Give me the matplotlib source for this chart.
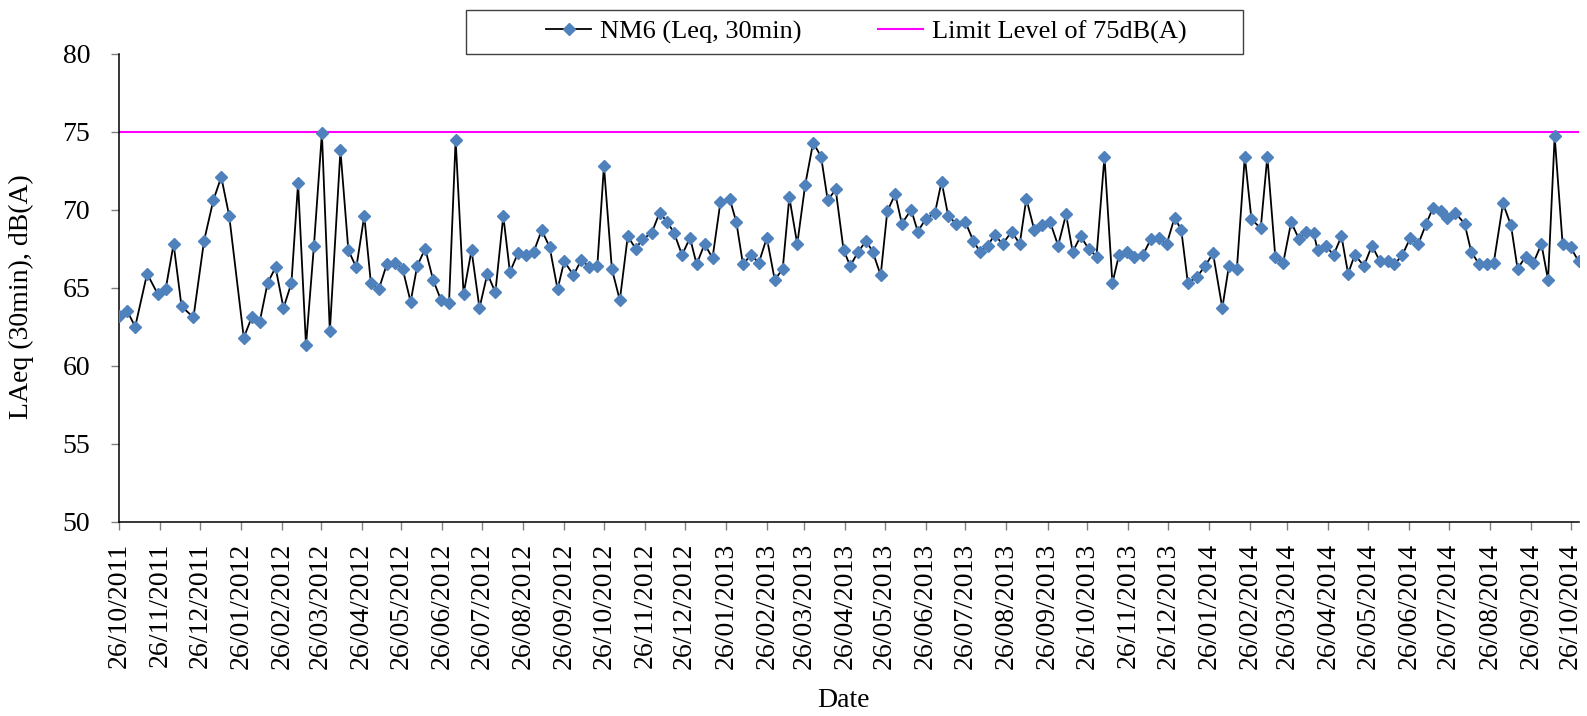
import numpy as np
import pandas as pd
import matplotlib
matplotlib.use('Agg')
import matplotlib.pyplot as plt
import matplotlib.dates as mdates
from matplotlib.patches import Rectangle

plt.rcParams['font.family'] = ['Liberation Serif', 'DejaVu Serif']

START = '2011-10-26'

# days after the first measurement (26/10/2011)
days = [0, 6, 12, 21, 29, 35, 41, 47, 56, 64, 71, 77, 83, 94, 100, 106, 112, 118, 124, 130,
        135, 141, 147, 153, 159, 167, 173, 179,
        185, 190, 196, 202, 208, 214, 220, 225, 231, 237, 243, 249, 254, 260, 266, 272, 278, 284,
        290, 295, 301, 307, 313, 319, 325, 331, 336, 343, 349, 355,
        361, 366, 372, 378, 384, 390, 395, 402, 408, 414, 419, 425, 431, 436, 442, 448, 454, 461,
        466, 471, 477, 483, 489, 495, 501, 506, 512, 518, 524, 530, 535, 541,
        547, 552, 558, 564, 569, 575, 580, 586, 591, 598, 603, 609, 616, 621, 626, 632, 639, 645,
        650, 656, 661, 667, 674, 680, 685, 691, 697, 703, 709, 715, 720,
        726, 732, 738, 744, 750, 755, 761, 766, 773, 779, 785, 791, 797, 802, 807, 814, 820, 826,
        833, 838, 844, 850, 855, 862, 867, 873, 879, 885, 891, 896, 902,
        905, 911, 917, 923, 928, 933, 940, 946, 952, 958, 963, 969, 975, 981, 987, 992, 998, 1003,
        1009, 1016, 1021, 1027, 1033, 1038, 1045, 1051, 1056, 1062, 1068, 1074, 1079, 1084, 1090,
        1096, 1102]

laeq = [63.2, 63.5, 62.5, 65.9, 64.6, 64.9, 67.8, 63.8, 63.1, 68.0, 70.6, 72.1, 69.6, 61.8,
        63.1, 62.8, 65.3, 66.3, 63.7, 65.3, 71.7, 61.3, 67.7, 74.9, 62.2, 73.8, 67.4, 66.3,
        69.6, 65.3, 64.9, 66.5, 66.6, 66.2, 64.1, 66.4, 67.5, 65.5, 64.2, 64.0, 74.5, 64.6,
        67.4, 63.7, 65.9, 64.7, 69.6, 66.0, 67.2, 67.1, 67.3, 68.7, 67.6, 64.9, 66.7, 65.8, 66.8, 66.3,
        66.4, 72.8, 66.2, 64.2, 68.3, 67.5, 68.1, 68.5, 69.8, 69.2, 68.5, 67.1, 68.2, 66.5,
        67.8, 66.9, 70.5, 70.7, 69.2, 66.5, 67.1, 66.6, 68.2, 65.5, 66.2, 70.8, 67.8, 71.6,
        74.3, 73.4, 70.6, 71.3,
        67.4, 66.4, 67.3, 68.0, 67.3, 65.8, 69.9, 71.0, 69.1, 70.0, 68.6, 69.4, 69.8, 71.8,
        69.6, 69.1, 69.2, 68.0, 67.3, 67.7, 68.4, 67.8, 68.6, 67.8, 70.7, 68.7, 69.0, 69.2, 67.7, 69.7, 67.3,
        68.3, 67.5, 67.0, 73.4, 65.3, 67.1, 67.3, 67.0, 67.1, 68.1, 68.2, 67.8, 69.5, 68.7,
        65.3, 65.7, 66.4, 67.2, 63.7, 66.4, 66.2, 73.4, 69.4, 68.8, 73.4, 67.0, 66.6, 69.2, 68.1, 68.6, 68.5,
        67.4, 67.7, 67.1, 68.3, 65.9, 67.1, 66.4, 67.7, 66.7, 66.7, 66.5, 67.1, 68.2, 67.8,
        69.1, 70.1, 69.9, 69.5, 69.8, 69.1, 67.3, 66.5, 66.5, 66.6, 70.4, 69.0, 66.2, 67.0,
        66.6, 67.8, 65.5, 74.7, 67.8, 67.6, 66.7]

LIMIT = 75

dates = pd.Timestamp(START) + pd.to_timedelta(days, unit='D')
tick_dates = pd.date_range(START, '2014-10-26', freq=pd.DateOffset(months=1))

fig = plt.figure(figsize=(15.87, 7.16), dpi=100)
ax = fig.add_axes([119.3 / 1587, 194.3 / 716, 1459.2 / 1587, 468 / 716])

ax.plot(dates, laeq, color='black', lw=1.3, marker='D', ms=5.8,
        mfc='#4F81BD', mec='#4F81BD', label='NM6 (Leq, 30min)', zorder=3)
ax.axhline(LIMIT, color='#FF00FF', lw=1.5, label='Limit Level of 75dB(A)', zorder=2)

ax.set_xlim(dates[0], dates[-1])
ax.set_ylim(50, 80)
ax.set_yticks(range(50, 81, 5))
ax.set_xticks(tick_dates)
ax.xaxis.set_major_formatter(mdates.DateFormatter('%d/%m/%Y'))
plt.setp(ax.get_xticklabels(), rotation=90)

for s in ['top', 'right']:
    ax.spines[s].set_visible(False)
for s in ['left', 'bottom']:
    ax.spines[s].set_linewidth(1.1)

ax.tick_params(axis='both', direction='out', length=6, width=1, color='#808080', labelsize=20)
ax.tick_params(axis='y', pad=15)
ax.tick_params(axis='x', pad=9)

ax.set_ylabel('LAeq (30min), dB(A)', fontsize=20)
ax.yaxis.set_label_coords(-0.0585, 0.48)
ax.set_xlabel('Date', fontsize=20)
ax.xaxis.set_label_coords(0.496, -0.355)

handles, labels = ax.get_legend_handles_labels()
fig.legend(handles, labels, ncol=2, loc='center', bbox_to_anchor=(866.5 / 1587, 1 - 32 / 716),
           frameon=False, fontsize=19, handlelength=1.7, handletextpad=0.34, columnspacing=2.9)
fig.add_artist(Rectangle((466 / 1587, 1 - 54 / 716), 777 / 1587, 44 / 716,
                         transform=fig.transFigure, fill=False, ec='#404040', lw=1))

fig.savefig('out.png', dpi=100)
